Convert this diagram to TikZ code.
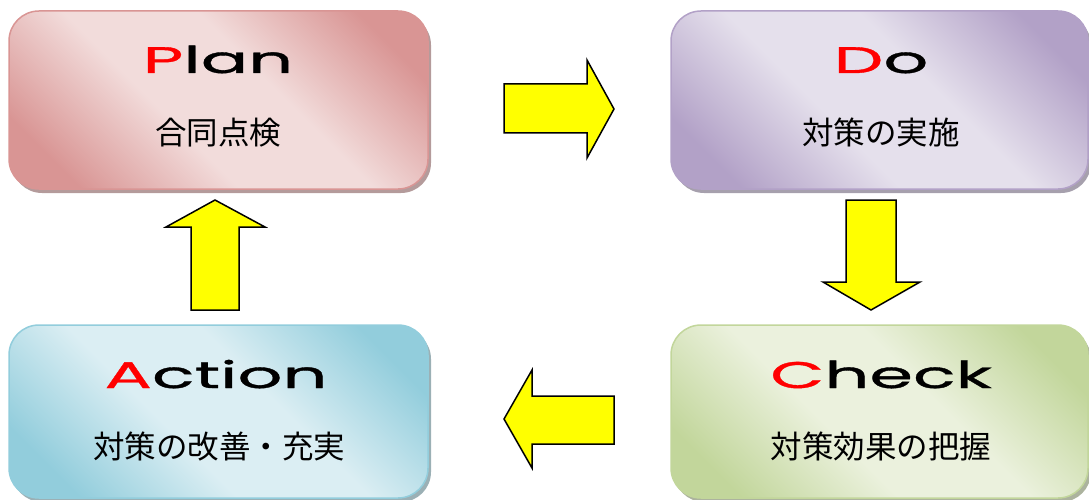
\documentclass[tikz,border=0pt]{standalone}
\usepackage{fontspec}
\usetikzlibrary{shadows}
\newfontfamily\wide[FakeStretch=1.9, FakeBold=1]{Poppins}
\newfontfamily\cjk{Noto Sans CJK JP}
\definecolor{pdark}{HTML}{D99594}\definecolor{plight}{HTML}{F2DCDB}
\definecolor{ddark}{HTML}{B2A1C7}\definecolor{dlight}{HTML}{E5E0EC}
\definecolor{adark}{HTML}{92CDDC}\definecolor{alight}{HTML}{DBEEF3}
\definecolor{cdark}{HTML}{C2D69B}\definecolor{clight}{HTML}{EBF1DD}
\definecolor{arrowyellow}{HTML}{FFFF00}
\pgfdeclareverticalshading{plansh}{100bp}{color(0bp)=(pdark); color(23bp)=(pdark); color(42bp)=(plight); color(58bp)=(plight); color(77bp)=(pdark); color(100bp)=(pdark)}
\pgfdeclareverticalshading{dosh}{100bp}{color(0bp)=(ddark); color(23bp)=(ddark); color(42bp)=(dlight); color(58bp)=(dlight); color(77bp)=(ddark); color(100bp)=(ddark)}
\pgfdeclareverticalshading{actsh}{100bp}{color(0bp)=(adark); color(23bp)=(adark); color(42bp)=(alight); color(58bp)=(alight); color(77bp)=(adark); color(100bp)=(adark)}
\pgfdeclareverticalshading{chksh}{100bp}{color(0bp)=(cdark); color(23bp)=(cdark); color(42bp)=(clight); color(58bp)=(clight); color(77bp)=(cdark); color(100bp)=(cdark)}
\tikzset{
  phasebox/.style={rounded corners=30pt, line width=1.5pt, inner sep=0pt, shading angle=-45},
  titletext/.style={anchor=base, inner sep=0pt, font=\wide\fontsize{37}{40}\selectfont},
  jptext/.style={anchor=base, inner sep=0pt, font=\cjk\fontsize{31.5}{36}\selectfont},
  blockarrow/.style={fill=arrowyellow, draw=black, line width=1.5pt, line join=miter},
}
\begin{document}
\begin{tikzpicture}[x=1pt,y=-1pt]
\useasboundingbox (0,0) rectangle (1089,500);
% boxes
\node[phasebox, shading=plansh, draw=pdark,
  drop shadow={shadow xshift=3pt, shadow yshift=-4pt, fill=pdark!60!black, opacity=0.6},
  minimum width=419pt, minimum height=178pt] (plan) at (218.5,100) {};
\node[phasebox, shading=dosh, draw=ddark,
  drop shadow={shadow xshift=3pt, shadow yshift=-4pt, fill=ddark!60!black, opacity=0.6},
  minimum width=417pt, minimum height=178pt] (do) at (879.5,100) {};
\node[phasebox, shading=actsh, draw=adark,
  drop shadow={shadow xshift=3pt, shadow yshift=-4pt, fill=adark!60!black, opacity=0.6},
  minimum width=419pt, minimum height=173pt] (act) at (218.5,411.5) {};
\node[phasebox, shading=chksh, draw=cdark,
  drop shadow={shadow xshift=3pt, shadow yshift=-4pt, fill=cdark!60!black, opacity=0.6},
  minimum width=417pt, minimum height=173pt] (chk) at (879.5,411.5) {};
% texts
\node[titletext] (plant) at (218,73) {\textcolor{red}{P}lan};
\node[jptext] (planj) at (218,145) {合同点検};
\node[titletext] (dot) at (881,73) {\textcolor{red}{D}o};
\node[jptext] (doj) at (881,145) {対策の実施};
\node[titletext] (actt) at (216,388) {\textcolor{red}{A}ction};
\node[jptext] (actj) at (219,458) {対策の改善・充実};
\node[titletext] (chkt) at (881,388) {\textcolor{red}{C}heck};
\node[jptext] (chkj) at (881,458) {対策効果の把握};
% block arrows
\draw[blockarrow] (504,84) -- (587,84) -- (587,60) -- (614,109) -- (587,158) -- (587,133) -- (504,133) -- cycle;
\draw[blockarrow] (846,200) -- (896,200) -- (896,282) -- (920,282) -- (871,310) -- (823,282) -- (846,282) -- cycle;
\draw[blockarrow] (614,396) -- (532,396) -- (532,370) -- (504,419) -- (532,468) -- (532,444) -- (614,444) -- cycle;
\draw[blockarrow] (191,310) -- (191,227) -- (166,227) -- (215,200) -- (265,227) -- (239,227) -- (239,310) -- cycle;
\end{tikzpicture}
\end{document}
